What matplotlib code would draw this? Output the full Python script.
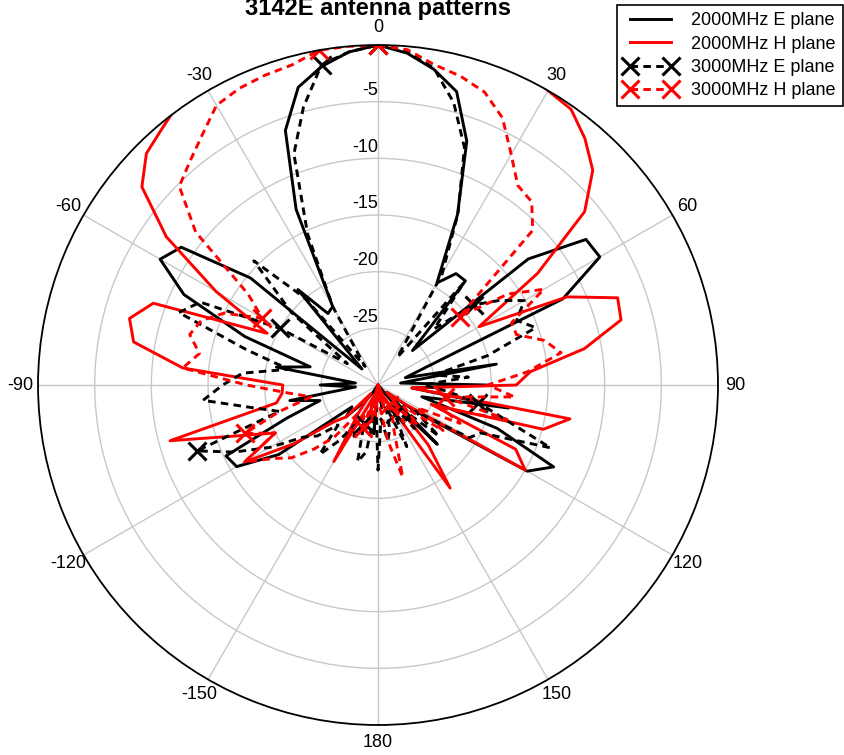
import numpy as np
import matplotlib
matplotlib.use("Agg")
import matplotlib.pyplot as plt

plt.rcParams['font.family'] = ['Liberation Sans', 'DejaVu Sans']

# measurement angles, 5 deg steps, 0..355 (clockwise from top)
angles_deg = np.arange(0, 360, 5)

# values in dB, first 0..175 deg, then -180..-5 deg
e2000_right = [0, -0.6, -1.7, -3.2, -7.1, -13.4, -19.6, -18.0, -18.0, -25.7, -12.7, -7.6,
               -7.4, -12.0, -25.7, -27.5, -19.4, -28, -20.4, -27, -18.3, -26, -18.8, -12.9,
               -14.8, -26, -29, -22.6, -28, -30, -30, -30, -30, -30, -28, -30]
e2000_left = [-30, -25.7, -30, -28, -30, -30, -30, -29, -28, -26, -27, -19.3,
              -15.6, -15.2, -21.4, -24.7, -22.1, -28, -24.9, -28, -20.9, -23.8, -17.5, -11.1,
              -7.8, -8.8, -15.3, -28, -19.0, -22.3, -22.0, -12.9, -6.1, -2.8, -1.45, -0.5]

h2000_right = [1.5, 1.5, 1.5, 1.3, 1.0, 0.6, 0.0, -0.3, -1.6, -3.2, -6.2, -12.8,
               -19.7, -11.6, -7.5, -7.8, -11.5, -16.5, -17.8, -27, -12.8, -14.9, -25, -16.6,
               -15.0, -27, -29, -28, -23.1, -18.9, -28, -29, -30, -28, -30, -29]
h2000_left = [-30, -27, -30, -26, -29, -28, -22.2, -27, -29, -26, -25, -21,
              -16.4, -20.0, -16.9, -11.0, -20.9, -21.5, -21.6, -12.7, -8.1, -7.3, -8.9, -19.2,
              -13.5, -7.2, -2.8, -1.1, -0.4, 0.5, 1.0, 1.3, 1.5, 1.5, 1.5, 1.5]

e3000_right = [0, -0.5, -1.6, -4.2, -7.7, -13.3, -18.7, -27, -18.2, -23, -19.0, -17,
               -15.1, -16.5, -15.2, -20, -25, -22, -26, -24, -21.0, -18.5, -13.8, -20,
               -20.7, -26, -23, -27, -25, -28, -27, -24, -28, -26, -25, -27]
e3000_left = [-22.5, -28, -24, -23, -26.4, -25, -26, -24, -22, -25, -23, -22,
              -19, -16, -13, -21, -18.6, -14.5, -16.3, -18, -22, -18, -11.3, -12.7,
              -20, -26.7, -20, -14.5, -20, -28, -22, -15.3, -8.3, -4.6, -1.3, -0.5]

h3000_right = [0, -0.3, -1.3, -1.8, -2.5, -4.0, -6.5, -8.5, -8.9, -10.7, -20.6, -16,
               -13.1, -17, -17, -14.8, -13.6, -16.8, -20.3, -17.9, -24, -18.2, -24, -22,
               -26, -23, -27, -25, -28, -26, -28, -27, -26, -21.6, -25, -28]
h3000_left = [-30, -28, -27, -29, -26, -27, -25, -27, -24, -22, -20, -18.7,
              -16.4, -20, -17.5, -21, -24, -22, -18.4, -12.7, -14, -12.8, -13.4, -15,
              -18.2, -16, -9, -5.2, -4.2, -3.0, -1.5, -1.1, -0.9, -0.75, 0, 0]

theta_ticks = [0, 30, 60, 90, 120, 150, 180, 210, 240, 270, 300, 330]
theta_labels = ['0', '30', '60', '90', '120', '150', '180', '-150', '-120', '-90', '-60', '-30']
r_ticks = [-25, -20, -15, -10, -5]

fs = 13


def closed(right, left):
    vals = np.array(right + left, dtype=float)
    return np.append(vals, vals[0])


th = np.deg2rad(np.append(angles_deg, 360))

fig = plt.figure(figsize=(8.45, 7.55), dpi=100)
ax = fig.add_axes([0.045, 0.0397, 0.8047, 0.9007], projection='polar')
ax.set_theta_zero_location('N')
ax.set_theta_direction(-1)

dash = (0, (2.6, 1.8))
ax.plot(th, closed(e2000_right, e2000_left), color='black', lw=2.1, label='2000MHz E plane')
ax.plot(th, closed(h2000_right, h2000_left), color='red', lw=2.1, label='2000MHz H plane')
ax.plot(th, closed(e3000_right, e3000_left), color='black', lw=2.1, ls=dash, marker='x',
        ms=13, mew=2.2, markevery=10, label='3000MHz E plane')
ax.plot(th, closed(h3000_right, h3000_left), color='red', lw=2.1, ls=dash, marker='x',
        ms=13, mew=2.2, markevery=10, label='3000MHz H plane')

ax.set_rlim(-30, 0)
ax.set_thetagrids(theta_ticks, theta_labels, fontsize=fs)
ax.set_rgrids(r_ticks)
ax.set_yticklabels([])
for r in r_ticks:
    ax.annotate(str(r), xy=(0, r), xytext=(0, 2), textcoords='offset points',
                ha='right', va='bottom', fontsize=fs)
ax.grid(True, color='#c8c8c8', lw=1)
ax.spines['polar'].set_color('black')
ax.spines['polar'].set_linewidth(1.3)
ax.tick_params(axis='x', pad=2)

fig.text(378 / 845, 1 - 15 / 755, '3142E antenna patterns', ha='center', va='baseline',
         fontsize=17, fontweight='bold')

leg = fig.legend(loc='upper right', bbox_to_anchor=(843 / 845, 1 - 5 / 755), fontsize=fs,
                 numpoints=2, handlelength=2.9, fancybox=False, framealpha=1,
                 edgecolor='black', borderaxespad=0, labelspacing=0.35)
leg.get_frame().set_linewidth(1.2)

fig.savefig('out.png', dpi=100)
